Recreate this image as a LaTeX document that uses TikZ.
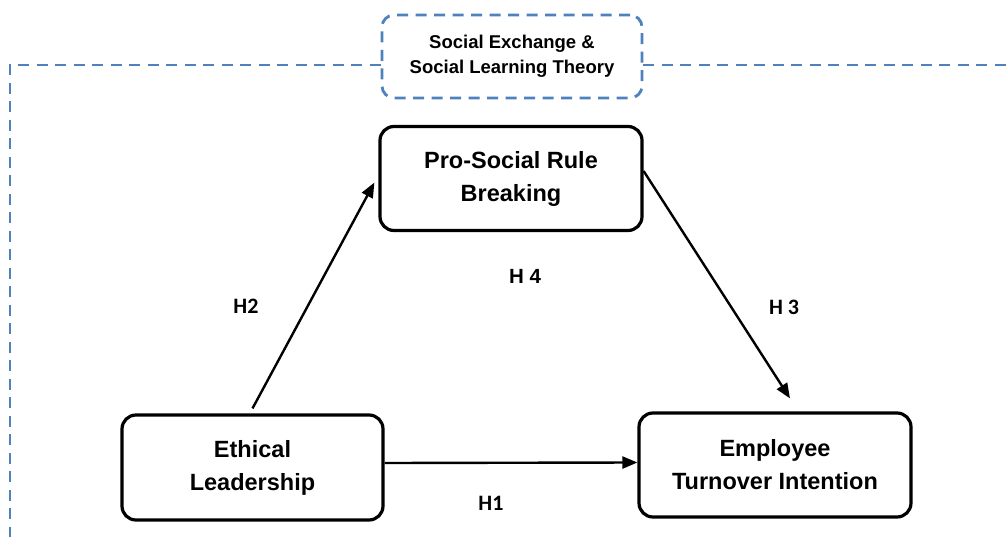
\documentclass[tikz,border=0pt]{standalone}
\usepackage{fontspec}
\setmainfont{Liberation Sans}
\newfontfamily\labelfont{Carlito}
\usetikzlibrary{arrows.meta}
\definecolor{frameblue}{RGB}{79,129,189}
\begin{document}
\begin{tikzpicture}[x=1pt,y=-1pt,
  conceptbox/.style={draw=black, line width=3.2pt, rounded corners=14pt, fill=white,
    align=center, inner sep=0pt, font=\fontsize{23.5}{33}\selectfont\bfseries},
  theorybox/.style={draw=frameblue, line width=2.8pt, dash pattern=on 11pt off 7.5pt,
    rounded corners=12pt, fill=white, align=center, inner sep=0pt,
    font=\fontsize{18.5}{25}\selectfont\bfseries},
  frameline/.style={draw=frameblue, line width=2.6pt, dash pattern=on 11pt off 7.5pt},
  link/.style={draw=black, line width=2.4pt, -{Triangle[length=15pt,width=12pt]}},
  hyp/.style={font=\fontsize{22}{26}\selectfont\bfseries\labelfont},
  hypb/.style={font=\fontsize{20.5}{24}\selectfont\bfseries}
]
\useasboundingbox (0,0) rectangle (1008,537);

% outer theoretical frame
\coordinate (frameBL) at (10,537);
\coordinate (frameR) at (1008,65);
\node[theorybox, minimum width=260pt, minimum height=83pt] (theory) at (512,56.5)
  {Social Exchange \&\\Social Learning Theory};
\draw[frameline] ([yshift=-8.5pt]theory.west) -| (frameBL);
\draw[frameline] ([yshift=-8.5pt]theory.east) -- (frameR);

% constructs
\node[conceptbox, minimum width=262pt, minimum height=104pt] (psrb) at (511,178.5)
  {Pro-Social Rule\\Breaking};
\node[conceptbox, minimum width=261pt, minimum height=105pt] (el) at (252.5,467.5)
  {Ethical\\Leadership};
\node[conceptbox, minimum width=272pt, minimum height=104pt] (eti) at (775,465)
  {Employee\\Turnover Intention};

% hypothesised paths
\draw[link] ([yshift=5pt]el.north) -- ([xshift=-4pt,yshift=-4pt]psrb.west);
\draw[link] ([yshift=7.5pt]psrb.east) -- ([xshift=15pt,yshift=13pt]eti.north);
\draw[link] ([yshift=4.5pt]el.east) -- ([yshift=2.5pt]eti.west);

% hypothesis labels
\node[hyp] (h2) at (246,306) {H2};
\node[hypb] (h4) at (525,276) {H 4};
\node[hyp] (h3) at (784,307) {H 3};
\node[hyp] (h1) at (491,503) {H1};
\end{tikzpicture}
\end{document}
